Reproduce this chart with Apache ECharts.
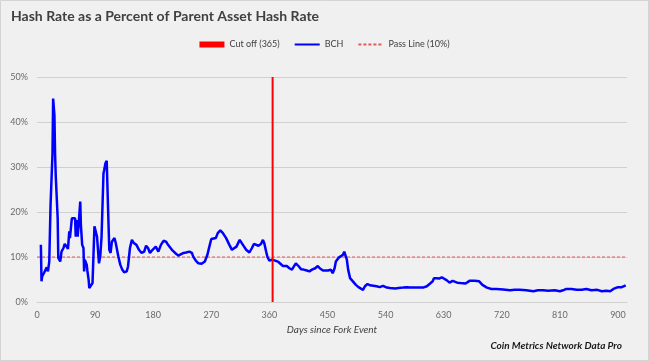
<!DOCTYPE html>
<html>
<head>
<meta charset="utf-8">
<script src="https://cdn.jsdelivr.net/npm/echarts@6/dist/echarts.min.js"></script>
<style>
html,body{margin:0;padding:0;background:#f0f0f0;}
#c{width:649px;height:361px;}
</style>
</head>
<body>
<div id="c"></div>
<script>
// Days since fork event
var bchDays = [6,7,8,11,15,17,19,21,22,24,25,27,28,29,31,32,33,35,36,38,41,43,46,48,50,51,54,56,59,60,61,63,65,67,68,70,72,73,74,77,78,80,81,84,86,89,91,93,96,98,100,103,104,106,108,110,112,114,116,120,122,126,129,132,135,139,141,144,147,148,150,154,158,162,166,169,172,175,179,184,188,192,196,200,203,209,214,219,222,227,231,236,240,242,246,250,255,260,264,267,270,273,277,280,284,288,293,298,302,305,309,314,319,324,329,333,336,339,343,347,350,352,355,357,360,364,366,369,371,374,376,381,387,391,395,398,401,405,409,413,418,422,426,431,435,438,443,446,451,455,458,461,463,467,470,474,476,478,480,482,485,488,490,494,498,501,505,508,512,516,521,526,531,536,542,547,555,560,567,573,578,588,598,604,609,613,615,619,623,627,630,635,639,644,647,651,656,664,670,678,685,690,697,704,712,722,733,740,748,758,769,776,784,792,802,810,815,820,828,836,844,851,859,868,875,882,888,893,900,906,912];
// BCH hash rate as % of BTC hash rate
var bchPct = [12.7,4.6,5.7,6.5,7.7,6.8,9,21.6,22,33,45.2,41.5,33,28.2,27.8,18.7,9.8,10.1,9,11.2,12,12.9,12.3,11.8,15.7,14.2,18.6,19,18.6,14.5,18.2,14.5,18.2,22.3,17.1,12.7,12,6.8,9.4,8.3,7,4.9,3.1,3.5,4.2,16.8,17.1,14.5,8.6,10.1,14.5,28.6,29.3,30.8,31.4,21.2,11.6,10.9,13.4,14.2,13.1,10.1,8.3,7.2,6.6,6.8,7.9,12,13.8,14.2,13.1,12.7,11.6,10.9,11.2,12.5,12,10.9,11.6,12.3,11.2,12.7,13.6,13.4,12.7,11.6,10.9,10.3,10.7,10.9,11,11.2,10.9,10.1,9.2,8.6,8.5,9,10.5,12.3,14,14.4,14.2,15.3,15.9,15.3,14.2,12.7,11.6,11.4,12.3,13.8,12.7,11.6,11,12,12.9,12.7,12.5,12.9,13.8,13.1,11.2,10,9.2,9.4,9.2,9.2,9,8.9,8.5,8,8,7.5,7.2,7.9,8.6,8,7.3,7.2,7,6.8,7.2,7.5,8,7.5,7,7.2,7,7.2,6.4,7.5,9,9.8,10.1,10.5,11.2,11,9.4,7.2,5.3,4.8,4.9,3.8,3.3,3.1,2.7,3.5,4,3.7,3.6,3.5,3.3,3.6,3.2,3.1,3,3.1,3.2,3.3,3.2,3.2,3.2,3.5,4.1,4.6,5.3,5.3,5.2,5.5,5.2,4.8,4.3,4.7,4.7,4.3,4.2,4.1,4.7,4.7,4.6,3.8,3.2,2.9,2.9,2.8,2.6,2.7,2.7,2.6,2.4,2.6,2.6,2.5,2.6,2.4,2.6,2.9,2.9,2.7,2.7,2.9,2.6,2.7,2.4,2.5,2.4,2.9,3.3,3.3,3.7];
var cutoffDays = [365, 365];
var cutoffPct = [0, 50];
var passDays = [0, 914];
var passPct = [10, 10];
var xTicks = [0,90,180,270,360,450,540,630,720,810,900];
var yTicks = [0,10,20,30,40,50];

function pairs(a, b){ return a.map(function(v,i){ return [v, b[i]]; }); }

var FONT = 'Lato';
var chart = echarts.init(document.getElementById('c'));
chart.setOption({
  backgroundColor: '#f0f0f0',
  animation: false,
  textStyle: { fontFamily: FONT },
  title: {
    text: 'Hash Rate as a Percent of Parent Asset Hash Rate',
    left: 11, top: 9, padding: 0,
    textStyle: { fontFamily: FONT, fontSize: 14, fontWeight: 'bold', color: '#404040' }
  },
  legend: {
    left: 'center', top: 35,
    itemWidth: 25, itemHeight: 6, itemGap: 14,
    textStyle: { fontFamily: FONT, fontSize: 9, color: '#404040' },
    data: [
      { name: 'Cut off (365)', icon: 'rect' },
      { name: 'BCH', itemStyle: { opacity: 0 } },
      { name: 'Pass Line (10%)', itemStyle: { opacity: 0 } }
    ]
  },
  grid: { left: 37, right: 22, top: 77, bottom: 59 },
  xAxis: {
    type: 'value', min: 0, max: 914, interval: 90,
    name: 'Days since Fork Event', nameLocation: 'middle', nameGap: 20,
    nameTextStyle: { fontFamily: FONT, fontSize: 10, fontStyle: 'italic', color: '#404040' },
    axisLine: { show: true, lineStyle: { color: '#d0d0d0', width: 1 } },
    axisTick: { show: false },
    splitLine: { show: false },
    axisLabel: {
      showMaxLabel: false, fontSize: 9, color: '#6a6a6a', margin: 9,
      formatter: function(v){ return xTicks.indexOf(v) >= 0 ? String(v) : ''; }
    }
  },
  yAxis: {
    type: 'value', min: 0, max: 50, interval: 10,
    axisLine: { show: false }, axisTick: { show: false },
    splitLine: { lineStyle: { color: '#d0d0d0', width: 1 } },
    axisLabel: {
      fontSize: 9, color: '#6a6a6a', margin: 9,
      formatter: function(v){ return yTicks.indexOf(v) >= 0 ? v + '%' : ''; }
    }
  },
  series: [
    {
      name: 'Pass Line (10%)', type: 'line', symbol: 'none', silent: true,
      data: pairs(passDays, passPct),
      lineStyle: { color: '#e05a5a', width: 1, type: [3, 2] },
      itemStyle: { color: '#e05a5a' }, z: 2
    },
    {
      name: 'BCH', type: 'line', symbol: 'none', showSymbol: false,
      data: pairs(bchDays, bchPct),
      lineStyle: { color: '#0000ff', width: 2.5 },
      itemStyle: { color: '#0000ff' }, z: 3
    },
    {
      name: 'Cut off (365)', type: 'line', symbol: 'none', silent: true,
      data: pairs(cutoffDays, cutoffPct),
      lineStyle: { color: '#ff0000', width: 2 },
      itemStyle: { color: '#ff0000' }, z: 4
    }
  ],
  graphic: [
    {
      type: 'rect', silent: true,
      shape: { x: 0.5, y: 0.5, width: 648, height: 360 },
      style: { fill: null, stroke: '#d4d4d4', lineWidth: 1 }
    },
    {
      type: 'text', right: 27, top: 341,
      style: { text: 'Coin Metrics Network Data Pro', fontFamily: FONT, fontSize: 10, fontStyle: 'italic', fontWeight: 'bold', fill: '#1a1a1a' }
    }
  ]
});
</script>
</body>
</html>
